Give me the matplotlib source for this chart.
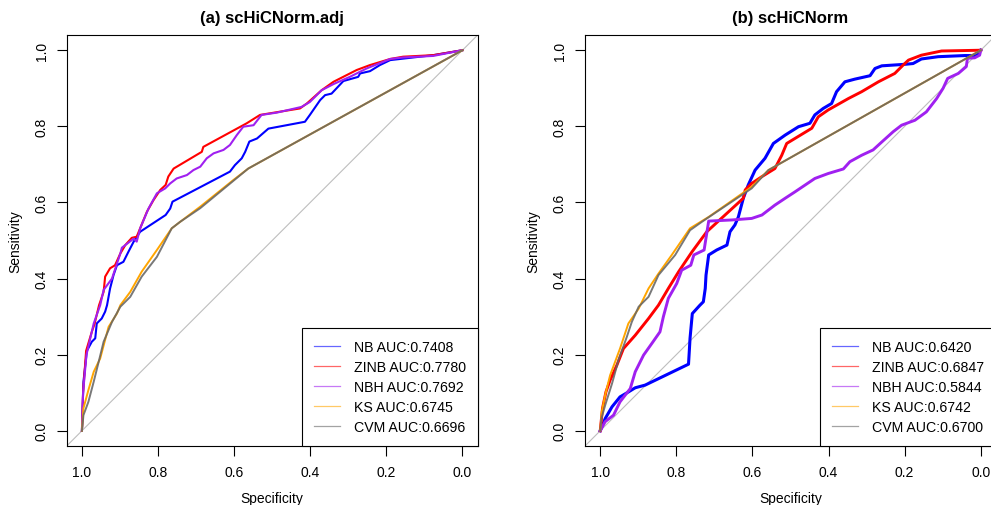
import matplotlib
matplotlib.use("Agg")
import matplotlib.pyplot as plt

plt.rcParams["font.family"] = ["Liberation Sans", "DejaVu Sans"]

labels = ["NB", "ZINB", "NBH", "KS", "CVM"]
colors = ["#0000FF", "#FF0000", "#A020F0", "#FFA500", "#666666"]
auc_a = ["0.7408", "0.7780", "0.7692", "0.6745", "0.6696"]
auc_b = ["0.6420", "0.6847", "0.5844", "0.6742", "0.6700"]

# panel (a) scHiCNorm.adj
a_nb_spec = [1.0, 0.996, 0.987, 0.974, 0.965, 0.961, 0.948, 0.939, 0.934, 0.926, 0.917, 0.908, 0.891, 0.878, 0.864, 0.847,
             0.780, 0.768, 0.762, 0.611, 0.598, 0.580, 0.571, 0.560, 0.540, 0.510, 0.414, 0.401, 0.374, 0.361, 0.344,
             0.313, 0.274, 0.269, 0.243, 0.217, 0.190, 0.077, 0.0]
a_nb_sens = [0.0, 0.129, 0.210, 0.234, 0.243, 0.282, 0.295, 0.313, 0.330, 0.374, 0.409, 0.435, 0.444, 0.470, 0.497, 0.523,
             0.567, 0.584, 0.602, 0.681, 0.698, 0.716, 0.733, 0.760, 0.768, 0.794, 0.812, 0.830, 0.869, 0.882, 0.886,
             0.919, 0.930, 0.939, 0.945, 0.961, 0.974, 0.987, 1.0]

a_zinb_spec = [1.0, 0.997, 0.989, 0.974, 0.967, 0.955, 0.943, 0.939, 0.926, 0.913, 0.899, 0.886, 0.869, 0.856, 0.847,
               0.829, 0.812, 0.794, 0.780, 0.773, 0.759, 0.685, 0.681, 0.567, 0.532, 0.427, 0.409, 0.370, 0.339, 0.278,
               0.243, 0.190, 0.156, 0.077, 0.0]
a_zinb_sens = [0.0, 0.100, 0.210, 0.260, 0.280, 0.330, 0.365, 0.405, 0.427, 0.435, 0.466, 0.488, 0.507, 0.510, 0.532,
               0.576, 0.606, 0.633, 0.646, 0.668, 0.689, 0.733, 0.746, 0.808, 0.830, 0.847, 0.860, 0.895, 0.917, 0.948,
               0.961, 0.977, 0.983, 0.987, 1.0]

a_nbh_spec = [1.0, 0.997, 0.988, 0.969, 0.952, 0.943, 0.921, 0.899, 0.895, 0.864, 0.856, 0.847, 0.825, 0.803, 0.781,
              0.768, 0.751, 0.724, 0.707, 0.689, 0.672, 0.654, 0.628, 0.611, 0.593, 0.576, 0.549, 0.528, 0.488, 0.423,
              0.401, 0.370, 0.339, 0.296, 0.252, 0.190, 0.156, 0.077, 0.0]
a_nbh_sens = [0.0, 0.100, 0.200, 0.282, 0.330, 0.370, 0.400, 0.466, 0.481, 0.505, 0.497, 0.532, 0.584, 0.624, 0.637,
              0.650, 0.663, 0.672, 0.685, 0.694, 0.716, 0.729, 0.738, 0.751, 0.777, 0.799, 0.803, 0.830, 0.836, 0.851,
              0.864, 0.895, 0.911, 0.930, 0.952, 0.977, 0.981, 0.985, 1.0]

a_ks_spec = [1.0, 0.996, 0.983, 0.969, 0.952, 0.930, 0.908, 0.899, 0.873, 0.843, 0.803, 0.764, 0.742, 0.689, 0.602, 0.563, 0.0]
a_ks_sens = [0.0, 0.059, 0.107, 0.155, 0.190, 0.273, 0.308, 0.330, 0.365, 0.418, 0.475, 0.532, 0.549, 0.589, 0.659, 0.689, 1.0]

a_cvm_spec = [1.0, 0.996, 0.983, 0.969, 0.956, 0.943, 0.921, 0.899, 0.873, 0.843, 0.803, 0.764, 0.742, 0.689, 0.563, 0.0]
a_cvm_sens = [0.0, 0.041, 0.076, 0.129, 0.181, 0.234, 0.286, 0.326, 0.352, 0.405, 0.457, 0.532, 0.549, 0.585, 0.689, 1.0]

# panel (b) scHiCNorm
b_nb_spec = [1.0, 0.987, 0.969, 0.948, 0.926, 0.908, 0.882, 0.768, 0.766, 0.764, 0.758, 0.738, 0.729, 0.724, 0.722,
             0.715, 0.694, 0.667, 0.659, 0.646, 0.637, 0.624, 0.611, 0.593, 0.567, 0.545, 0.514, 0.479, 0.449, 0.436,
             0.414, 0.392, 0.379, 0.357, 0.331, 0.291, 0.278, 0.260, 0.199, 0.178, 0.156, 0.112, 0.042, 0.011, 0.0]
b_nb_sens = [0.0, 0.032, 0.063, 0.089, 0.102, 0.113, 0.120, 0.175, 0.208, 0.243, 0.308, 0.330, 0.339, 0.374, 0.409,
             0.462, 0.475, 0.488, 0.523, 0.541, 0.562, 0.611, 0.646, 0.685, 0.716, 0.755, 0.777, 0.799, 0.808, 0.830,
             0.847, 0.860, 0.891, 0.917, 0.924, 0.933, 0.952, 0.959, 0.963, 0.965, 0.977, 0.983, 0.986, 0.986, 1.0]

b_zinb_spec = [1.0, 0.994, 0.985, 0.974, 0.956, 0.939, 0.908, 0.873, 0.847, 0.821, 0.794, 0.759, 0.720, 0.672, 0.624,
               0.619, 0.602, 0.575, 0.541, 0.523, 0.510, 0.444, 0.427, 0.401, 0.348, 0.313, 0.269, 0.226, 0.204, 0.190,
               0.156, 0.103, 0.0]
b_zinb_sens = [0.0, 0.059, 0.102, 0.133, 0.173, 0.216, 0.251, 0.295, 0.330, 0.374, 0.418, 0.470, 0.523, 0.567, 0.611,
               0.633, 0.650, 0.668, 0.689, 0.724, 0.755, 0.795, 0.825, 0.843, 0.873, 0.891, 0.917, 0.939, 0.961, 0.974,
               0.987, 0.998, 1.0]

b_nbh_spec = [1.0, 0.987, 0.965, 0.948, 0.921, 0.908, 0.886, 0.864, 0.843, 0.834, 0.821, 0.799, 0.786, 0.762, 0.754,
              0.727, 0.715, 0.654, 0.602, 0.575, 0.541, 0.514, 0.488, 0.436, 0.401, 0.361, 0.344, 0.313, 0.283, 0.260,
              0.230, 0.208, 0.173, 0.143, 0.116, 0.099, 0.087, 0.059, 0.038, 0.035, 0.016, 0.003, 0.0]
b_nbh_sens = [0.0, 0.024, 0.041, 0.076, 0.111, 0.155, 0.199, 0.230, 0.260, 0.300, 0.348, 0.387, 0.422, 0.435, 0.462,
              0.475, 0.551, 0.554, 0.558, 0.567, 0.593, 0.611, 0.628, 0.663, 0.676, 0.688, 0.707, 0.724, 0.738, 0.759,
              0.786, 0.803, 0.816, 0.838, 0.873, 0.900, 0.926, 0.939, 0.957, 0.979, 0.980, 0.987, 1.0]

b_ks_spec = [1.0, 0.996, 0.987, 0.974, 0.948, 0.926, 0.899, 0.873, 0.847, 0.812, 0.764, 0.715, 0.602, 0.558, 0.0]
b_ks_sens = [0.0, 0.050, 0.094, 0.146, 0.216, 0.282, 0.321, 0.374, 0.413, 0.462, 0.532, 0.562, 0.641, 0.685, 1.0]

b_cvm_spec = [1.0, 0.997, 0.987, 0.969, 0.952, 0.930, 0.917, 0.899, 0.873, 0.847, 0.803, 0.764, 0.733, 0.602, 0.558, 0.0]
b_cvm_sens = [0.0, 0.032, 0.067, 0.124, 0.186, 0.247, 0.286, 0.326, 0.352, 0.409, 0.462, 0.527, 0.549, 0.637, 0.685, 1.0]

panels = [
    ("(a) scHiCNorm.adj", auc_a, [1.5, 1.5, 1.5, 1.4, 1.4],
     [(a_nb_spec, a_nb_sens), (a_zinb_spec, a_zinb_sens), (a_nbh_spec, a_nbh_sens),
      (a_ks_spec, a_ks_sens), (a_cvm_spec, a_cvm_sens)]),
    ("(b) scHiCNorm", auc_b, [2.2, 2.1, 2.1, 1.4, 1.4],
     [(b_nb_spec, b_nb_sens), (b_zinb_spec, b_zinb_sens), (b_nbh_spec, b_nbh_sens),
      (b_ks_spec, b_ks_sens), (b_cvm_spec, b_cvm_sens)]),
]

W, H = 991, 506
fig = plt.figure(figsize=(W / 100, H / 100), dpi=100)

lefts = [66.7, 585.0]
for (title, aucs, widths, curves), left in zip(panels, lefts):
    ax = fig.add_axes([left / W, 59 / H, 411 / W, 411 / H])
    ax.axline((1, 0), (0, 1), color="#BEBEBE", lw=0.8, zorder=1)
    for (sp, se), lab, col, auc, lw in zip(curves, labels, colors, aucs, widths):
        alpha = 0.88 if lab == "CVM" else 1.0
        ax.plot(sp, se, color=col, lw=lw, alpha=alpha, label=f"{lab} AUC:{auc}", zorder=2)
    ax.set_xlim(1.04, -0.04)
    ax.set_ylim(-0.04, 1.04)
    ticks = [1.0, 0.8, 0.6, 0.4, 0.2, 0.0]
    ax.set_xticks(ticks)
    ax.set_yticks(ticks)
    ax.set_xticklabels([f"{t:.1f}" for t in ticks])
    ax.set_yticklabels([f"{t:.1f}" for t in ticks], rotation=90, va="center")
    ax.tick_params(length=7, width=0.8, labelsize=10, pad=7)
    ax.tick_params(axis="y", pad=6)
    for s in ax.spines.values():
        s.set_linewidth(0.8)
    leg = ax.legend(loc="lower right", bbox_to_anchor=(1, 0), borderaxespad=0, fancybox=False,
                    edgecolor="black", framealpha=1, fontsize=10.2, handlelength=1.84, handletextpad=0.95,
                    borderpad=0.85, labelspacing=0.42)
    leg.get_frame().set_linewidth(0.8)
    for h in leg.get_lines():
        h.set_linewidth(0.9)
        h.set_alpha(0.6)
    cx = (left + 411 / 2) / W
    fig.text(cx, 1 - 18 / H, title, ha="center", va="center", fontsize=12, fontweight="bold")
    fig.text(cx, 1 - 499 / H, "Specificity", ha="center", va="center", fontsize=10)
    fig.text((left - 51.5) / W, 1 - 242 / H, "Sensitivity", ha="center", va="center", fontsize=10, rotation=90)

fig.savefig("out.png", dpi=100)
